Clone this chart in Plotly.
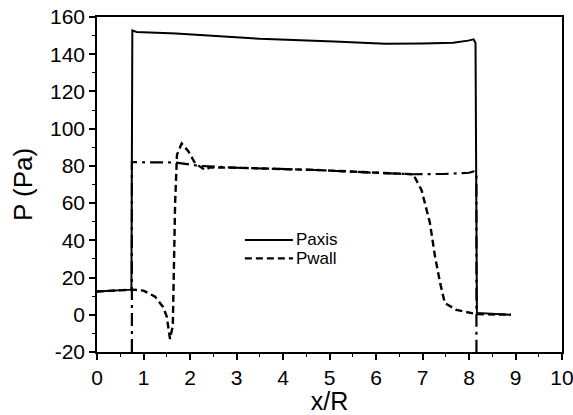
import plotly.graph_objects as go

# Pressure along the axis (solid)
paxis_x = [0, 0.74, 0.76, 0.85, 1.7, 2.5, 3.5, 5.1, 6.2, 7.0, 7.66, 7.98, 8.1, 8.14, 8.17, 8.9]
paxis_y = [12.5, 13.5, 152.8, 152.0, 151.2, 149.8, 148.3, 146.9, 145.6, 145.8, 146.2, 147.3, 148.0, 146.0, 1.0, 0.0]

# Pressure at the wall (dashed)
pwall_x = [0, 0.75, 1.0, 1.25, 1.42, 1.5, 1.57, 1.63, 1.68, 1.72, 1.82, 1.96, 2.11, 2.32, 2.43,
           3.0, 4.7, 6.0, 6.8, 6.98, 7.16, 7.27, 7.38, 7.48, 7.73, 8.15, 8.9]
pwall_y = [12.5, 13.5, 13.0, 9.7, 4.2, -1.0, -13.0, -6.0, 60.0, 86.0, 92.0, 88.0, 81.4, 77.8, 79.2,
           79.0, 77.8, 76.3, 75.5, 67.0, 49.3, 31.2, 17.0, 6.3, 2.6, 0.4, 0.0]

# Reference pressure level (dash-dot)
pref_x = [0.75, 0.75, 1.7, 2.2, 3.0, 4.7, 6.0, 6.8, 7.5, 8.0, 8.1, 8.16, 8.16]
pref_y = [-20, 82.0, 81.8, 80.0, 79.0, 77.8, 76.3, 75.5, 75.7, 76.3, 77.0, 76.0, -20]

x_ticks = list(range(0, 11))
y_ticks = list(range(-20, 161, 20))
legend_names = ["Paxis", "Pwall"]

FONT = "Arial, Liberation Sans, sans-serif"

fig = go.Figure()
fig.add_trace(go.Scatter(x=pref_x, y=pref_y, mode="lines", showlegend=False,
                         line=dict(color="black", width=2.2, dash="13px,5px,3px,5px")))
fig.add_trace(go.Scatter(x=pwall_x, y=pwall_y, mode="lines", name=legend_names[1], showlegend=False,
                         line=dict(color="black", width=2.4, dash="7px,4px")))
fig.add_trace(go.Scatter(x=paxis_x, y=paxis_y, mode="lines", name=legend_names[0], showlegend=False,
                         line=dict(color="black", width=2)))

# Legend drawn as line samples with labels
legend_rows = [(0.3345, "solid", 2), (0.2795, "7px,4px", 2.4)]
for (yy, dash, w), name in zip(legend_rows, legend_names):
    fig.add_shape(type="line", xref="paper", yref="paper", x0=0.318, x1=0.4215, y0=yy, y1=yy,
                  line=dict(color="black", width=w, dash=dash))
    fig.add_annotation(xref="paper", yref="paper", x=0.425, y=yy, text=name, showarrow=False,
                       xanchor="left", yanchor="middle", borderpad=0,
                       font=dict(family=FONT, size=17, color="black"))

axis_common = dict(
    showline=True, linecolor="black", linewidth=1.5, mirror=True,
    ticks="outside", tickcolor="black", tickwidth=1.5, ticklen=6,
    showgrid=False, zeroline=False, automargin=False, ticklabeloverflow="allow",
    tickfont=dict(family=FONT, size=21, color="black"),
)

fig.update_xaxes(range=[0, 10], tickvals=x_ticks, ticktext=[str(v) for v in x_ticks],
                 minor=dict(dtick=0.5, ticks="outside", ticklen=3, tickcolor="black", tickwidth=1.2),
                 title=dict(text="x/R", font=dict(family=FONT, size=25, color="black"), standoff=10),
                 **axis_common)
fig.update_yaxes(range=[-20, 160], tickvals=y_ticks, ticktext=[str(v) for v in y_ticks],
                 minor=dict(dtick=10, ticks="outside", ticklen=3, tickcolor="black", tickwidth=1.2),
                 title=dict(text="P (Pa)", font=dict(family=FONT, size=26, color="black"), standoff=10),
                 **axis_common)

fig.update_layout(
    width=573, height=415,
    margin=dict(l=97, r=11, t=17, b=63),
    paper_bgcolor="white", plot_bgcolor="white",
    showlegend=False,
)

fig.write_html("out.html")
